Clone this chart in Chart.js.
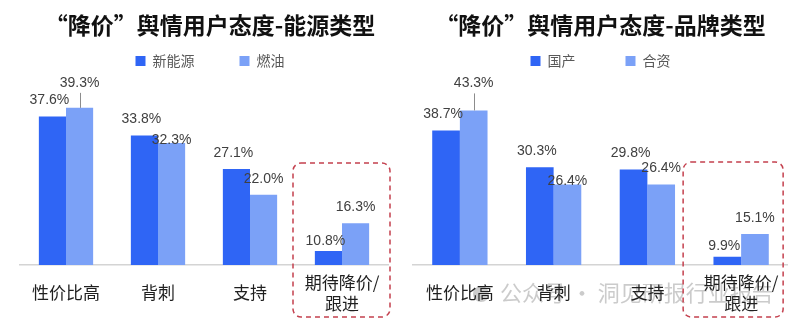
<!DOCTYPE html>
<html><head><meta charset="utf-8">
<script src="https://cdn.jsdelivr.net/npm/chart.js@4.4.1/dist/chart.umd.min.js"></script>
<style>
html,body{margin:0;padding:0;background:#fff;}
#wrap{position:relative;width:796px;height:325px;overflow:hidden;background:#fff;}
#c1{position:absolute;left:0;top:0;}
#c2{position:absolute;left:398px;top:0;}
</style></head><body>
<div id="wrap"><canvas id="c1" width="400" height="325"></canvas><canvas id="c2" width="390" height="325"></canvas></div>
<script>
// ---- data ----
const categories = ['性价比高', '背刺', '支持', ['期待降价/', '跟进']];
const titleEnergy = '“降价”舆情用户态度-能源类型';
const titleBrand = '“降价”舆情用户态度-品牌类型';
const seriesEnergy = ['新能源', '燃油'];
const newEnergy = [37.6, 33.8, 27.1, 10.8];
const fuel = [39.3, 32.3, 22.0, 16.3];
const seriesBrand = ['国产', '合资'];
const domestic = [38.7, 30.3, 29.8, 9.9];
const jointVenture = [43.3, 26.4, 26.4, 15.1];
const watermarkText = '公众号 · 洞见研报行业报告';

// ---- styles ----
const colorMain = '#2f65f5';
const colorLight = '#7ba1f7';
Chart.defaults.font.family = '"Noto Sans CJK SC", "Noto Sans", sans-serif';

const valueLabels = {
  id: 'valueLabels',
  afterDatasetsDraw(chart, args, o) {
    const ctx = chart.ctx;
    ctx.save();
    ctx.font = '14px "Liberation Sans", Arial, sans-serif';
    ctx.fillStyle = '#404040';
    ctx.textAlign = 'center';
    ctx.textBaseline = 'middle';
    chart.data.datasets.forEach((ds, di) => {
      const meta = chart.getDatasetMeta(di);
      meta.data.forEach((bar, i) => {
        const key = di + '-' + i;
        const lift = (o.lift && o.lift[key] != null) ? o.lift[key] : o.defaultLift;
        const x = bar.x + (o.dx[di] || 0);
        const y = bar.y - lift;
        ctx.fillText(ds.data[i].toFixed(1) + '%', x, y);
        if (o.leaders && o.leaders.includes(key)) {
          ctx.strokeStyle = '#8c8c8c';
          ctx.lineWidth = 1;
          ctx.beginPath();
          ctx.moveTo(Math.round(bar.x) + 0.5, y + 10);
          ctx.lineTo(Math.round(bar.x) + 0.5, bar.y);
          ctx.stroke();
        }
      });
    });
    ctx.restore();
  }
};

const focusBox = {
  id: 'focusBox',
  afterDraw(chart, args, o) {
    const ctx = chart.ctx;
    const cx = chart.scales.x.getPixelForValue(o.index) + o.dx;
    const bottom = chart.chartArea.bottom;
    ctx.save();
    ctx.setLineDash([5, 4]);
    ctx.lineWidth = 1.5;
    ctx.strokeStyle = o.color;
    ctx.beginPath();
    ctx.roundRect(cx - o.width / 2, bottom - o.up, o.width, o.up + o.down, 8);
    ctx.stroke();
    ctx.restore();
  }
};

const watermark = {
  id: 'watermark',
  beforeDraw(chart, args, o) {
    if (!o.text) return;
    const ctx = chart.ctx;
    ctx.save();
    ctx.fillStyle = 'rgba(160,160,160,0.55)';
    ctx.beginPath();
    ctx.arc(o.x - 19, o.y + 1, 8, 0, Math.PI * 2);
    ctx.fill();
    ctx.font = '22px "Noto Sans CJK SC", sans-serif';
    ctx.textAlign = 'left';
    ctx.textBaseline = 'middle';
    ctx.fillText(o.text, o.x, o.y);
    ctx.restore();
  }
};

function makeChart(id, title, names, a, b, cfg) {
  return new Chart(document.getElementById(id), {
    type: 'bar',
    data: {
      labels: categories,
      datasets: [
        { label: names[0], data: a, backgroundColor: colorMain, borderWidth: 0 },
        { label: names[1], data: b, backgroundColor: colorLight, borderWidth: 0 }
      ]
    },
    options: {
      responsive: false,
      animation: false,
      categoryPercentage: 0.59,
      barPercentage: 1.0,
      layout: { padding: { left: cfg.padL, right: 0, top: 0, bottom: 0 } },
      scales: {
        x: {
          grid: { display: false, drawTicks: false },
          border: { display: true, color: '#d4d4d4', width: 1.5 },
          ticks: { color: '#1f1f1f', font: { size: 17 }, padding: 17.8, crossAlign: 'center', maxRotation: 0, autoSkip: false },
          afterFit(s) { s.height = 60; s.paddingLeft = 0; s.paddingRight = 0; }
        },
        y: { display: false, min: 8, max: cfg.yMax },
        y2: {
          position: 'right', display: cfg.rightW > 0,
          grid: { display: false, drawTicks: false },
          border: { display: false },
          ticks: { display: false },
          afterFit(s) { s.width = cfg.rightW; }
        }
      },
      plugins: {
        title: {
          display: true, text: title, color: '#111111',
          font: { size: 23, weight: 'bold' },
          padding: { top: 11, bottom: cfg.titlePadBottom }
        },
        legend: {
          display: true, position: 'top',
          labels: { boxWidth: 10, boxHeight: 10, color: '#595959', font: { size: 14 }, padding: cfg.legendPad }
        },
        tooltip: { enabled: false },
        valueLabels: cfg.labels,
        focusBox: cfg.box,
        watermark: cfg.watermark || {}
      }
    },
    plugins: [valueLabels, focusBox, watermark]
  });
}

makeChart('c1', titleEnergy, seriesEnergy, newEnergy, fuel, {
  padL: 20, rightW: 12, yMax: 45.25, legendPad: 45, titlePadBottom: -29.6,
  labels: { defaultLift: 16, dx: [-3, 0], lift: { '1-1': 3, '0-3': 10, '1-0': 25 }, leaders: ['1-0'] },
  box: { index: 3, dx: -0.5, width: 97, up: 102, down: 52, color: '#c4404e' }
});

makeChart('c2', titleBrand, seriesBrand, domestic, jointVenture, {
  padL: 15, rightW: 0, yMax: 50.7, legendPad: 50, titlePadBottom: -34.6,
  labels: { defaultLift: 16, dx: [-3, 0], lift: { '1-1': 3, '0-3': 11, '1-0': 27 }, leaders: ['1-0'] },
  box: { index: 3, dx: -8, width: 100, up: 103, down: 52, color: '#c4404e' },
  watermark: { text: watermarkText, x: 102, y: 293 }
});
</script>
</body></html>
